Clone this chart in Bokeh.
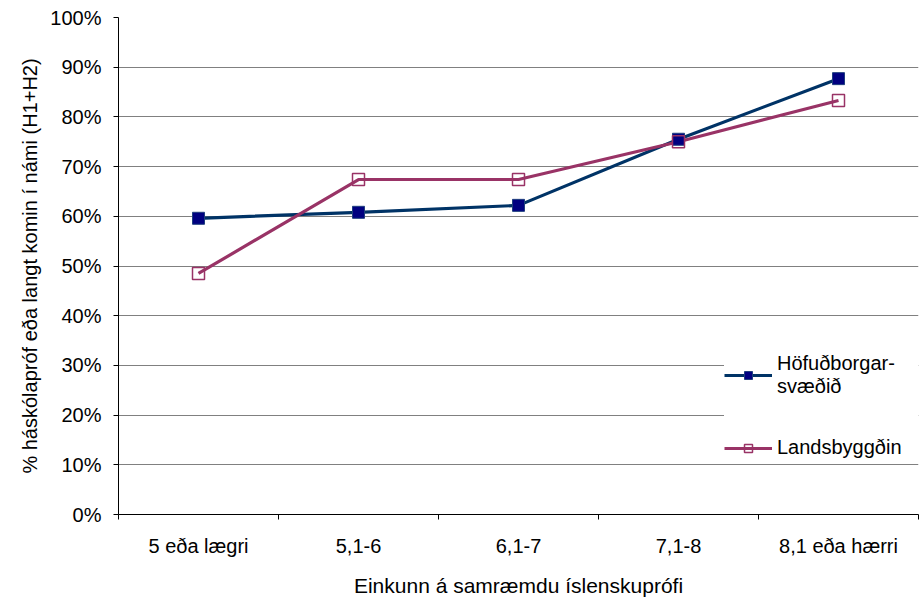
from bokeh.plotting import figure
from bokeh.models import (ColumnDataSource, Range1d, FixedTicker, NumeralTickFormatter,
                          Legend, LegendItem)
from bokeh.embed import file_html
from bokeh.resources import INLINE

categories = ["5 eða lægri", "5,1-6", "6,1-7", "7,1-8", "8,1 eða hærri"]
hofud = [0.596, 0.608, 0.622, 0.755, 0.877]
lands = [0.485, 0.674, 0.674, 0.750, 0.833]
y_ticks = [0.0, 0.1, 0.2, 0.3, 0.4, 0.5, 0.6, 0.7, 0.8, 0.9, 1.0]
series_names = ["Höfuðborgar-\nsvæðið", "Landsbyggðin"]

xpos = [i + 0.5 for i in range(len(categories))]
bounds = list(range(len(categories) + 1))

src = ColumnDataSource(dict(x=xpos, h=hofud, l=lands))

FONT = "Liberation Sans"

p = figure(width=920, height=600, output_backend="svg", toolbar_location=None,
           x_range=Range1d(0, len(categories)), y_range=Range1d(0, 1),
           min_border_left=118, min_border_top=17, min_border_right=2,
           min_border_bottom=86)
p.outline_line_color = None
p.background_fill_color = "white"
p.border_fill_color = "white"

# lines and markers
r1l = p.line("x", "h", source=src, line_color="#003366", line_width=3.2)
r2l = p.line("x", "l", source=src, line_color="#993366", line_width=3.2)
r1m = p.scatter("x", "h", source=src, marker="square", size=12,
                fill_color="#000080", line_color="#1f3f7f", line_width=1)
r2m = p.scatter("x", "l", source=src, marker="square", size=12,
                fill_color="white", fill_alpha=0, line_color="#993366", line_width=1.5)

# x axis
xa = p.xaxis[0]
xa.ticker = FixedTicker(ticks=xpos, minor_ticks=bounds)
xa.major_label_overrides = {x: c for x, c in zip(xpos, categories)}
xa.major_tick_out = 0
xa.major_tick_in = 0
xa.minor_tick_out = 5
xa.minor_tick_in = 0
xa.minor_tick_line_color = "black"
xa.axis_line_color = "black"
xa.major_label_standoff = 15
xa.major_label_text_font = FONT
xa.major_label_text_font_size = "20px"
xa.major_label_text_color = "black"
xa.axis_label = "Einkunn á samræmdu íslenskuprófi"
xa.axis_label_text_font = FONT
xa.axis_label_text_font_size = "21px"
xa.axis_label_text_font_style = "normal"
xa.axis_label_text_color = "black"
xa.axis_label_standoff = 14

# y axis
ya = p.yaxis[0]
ya.ticker = FixedTicker(ticks=y_ticks)
ya.formatter = NumeralTickFormatter(format="0%")
ya.major_tick_out = 5
ya.major_tick_in = 0
ya.minor_tick_line_color = None
ya.axis_line_color = "black"
ya.major_tick_line_color = "black"
ya.major_label_standoff = 12
ya.major_label_text_font = FONT
ya.major_label_text_font_size = "20px"
ya.major_label_text_color = "black"
ya.axis_label = "% háskólapróf eða langt komin í námi (H1+H2)"
ya.axis_label_text_font = FONT
ya.axis_label_text_font_size = "20px"
ya.axis_label_text_font_style = "normal"
ya.axis_label_text_color = "black"
ya.axis_label_standoff = 6

p.xgrid.grid_line_color = None
p.ygrid.ticker = FixedTicker(ticks=y_ticks)
p.ygrid.grid_line_color = "#808080"
p.ygrid.grid_line_width = 1

legend = Legend(items=[LegendItem(label=series_names[0], renderers=[r1l, r1m]),
                       LegendItem(label=series_names[1], renderers=[r2l, r2m])],
                location=(606, 55), orientation="vertical",
                background_fill_color="white", background_fill_alpha=1,
                border_line_color=None, padding=28, spacing=38, margin=0,
                glyph_width=48, glyph_height=20, label_standoff=5,
                label_width=150,
                label_text_font=FONT, label_text_font_size="20px",
                label_text_color="black", label_text_line_height=1.4)
p.add_layout(legend, "center")

open("out.html", "w").write(file_html(p, INLINE))
